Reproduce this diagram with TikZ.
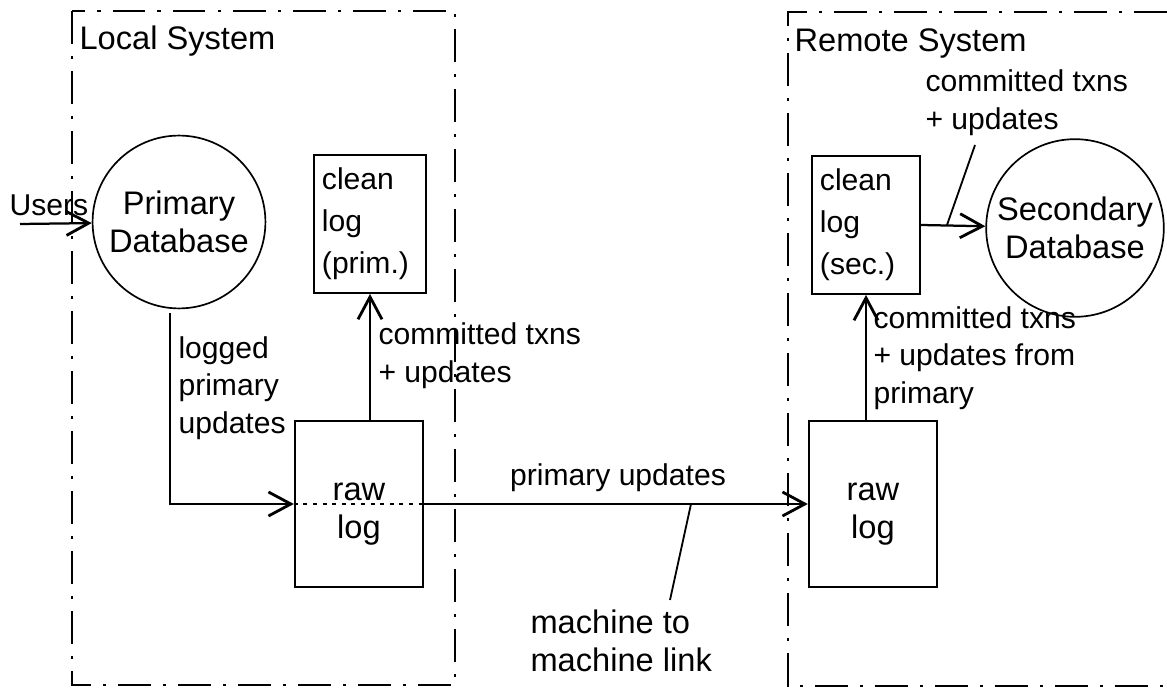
\documentclass[tikz,border=0pt]{standalone}
\usepackage{fontspec}
\setmainfont{Liberation Sans}
\usetikzlibrary{arrows.meta}
\tikzset{
  txt/.style = {inner sep=0pt, font=\fontsize{10.7}{13.4}\selectfont},
  bigtxt/.style = {inner sep=0pt, font=\fontsize{11.6}{13.5}\selectfont},
  lbl/.style = {txt, align=left, anchor=west},
  dbase/.style = {bigtxt, circle, draw=black, line width=0.6pt,
    align=center, minimum size=2.16cm},% database
  logbox/.style = {txt, rectangle, draw=black, line width=0.8pt},
  rawbox/.style = {logbox, minimum width=1.6cm, minimum height=2.07cm,
    label={[bigtxt, align=center, yshift=-0.13cm]center:{raw\\log}}},% raw log
  cleanbox/.style = {logbox, align=left, inner xsep=0.1cm, text width=1.2cm,
    minimum height=1.72cm, font=\fontsize{10.7}{14.9}\selectfont},% clean log
  sysbound/.style = {line width=0.75pt,
    dash pattern=on 0.41cm off 0.15cm on 0.04cm off 0.15cm},
  flow/.style = {->, line width=0.8pt},
  pointer/.style = {line width=0.65pt}
}

\begin{document}
\begin{tikzpicture}[x=0.0125cm, y=-0.0125cm,
    >={Straight Barb[length=2.8mm,width=3mm,line width=1pt]}]
  \useasboundingbox (0,0) rectangle (1167,688);
  % system boundaries
  \draw [sysbound] (72,11) rectangle (455,685);
  \draw [sysbound] (1167,12) -- (788,12) -- (788,686) -- (1167,686);
  \node [bigtxt, anchor=west] (locsys) at (79,41) {Local System};
  \node [bigtxt, anchor=west] (remsys) at (794,44) {Remote System};

  % local system
  \node [dbase] (primdb) at (179,222) {Primary\\Database};
  \node [txt] (users) at (49,205) {Users};
  \coordinate (usrsrc) at (20,224);
  \node [cleanbox] (cleanprim) at (370,224) {clean\\log\\(prim.)};
  \node [rawbox] (rawprim) at (359,504) {};
  \coordinate (logtop) at (170,313);

  \draw [flow] (usrsrc) -- (primdb);
  \draw [flow] (logtop) |- (rawprim.west);
  \draw [line width=0.75pt, dash pattern=on 0.05cm off 0.07cm]
    (rawprim.west) -- (rawprim.east);
  \draw [flow] (cleanprim.south |- rawprim.north) -- (cleanprim.south);
  \node [lbl] (logged) at (178,388) {logged\\primary\\updates};
  \node [lbl] (commprim) at (378,356) {committed txns\\+ updates};

  % remote system
  \node [rawbox] (rawsec) at (873,504) {};
  \node [cleanbox, text width=1.15cm] (cleansec) at (866,225) {clean\\log\\(sec.)};
  \node [dbase, minimum size=2.22cm] (secdb) at (1075,228) {Secondary\\Database};

  \draw [flow] (cleansec.south |- rawsec.north) -- (cleansec.south);
  \draw [flow] (cleansec.east) -- (secdb);
  \node [lbl] (commsec) at (873,358) {committed txns\\+ updates from\\primary};
  \node [lbl] (commtop) at (925,103) {committed txns\\+ updates};
  \coordinate (cleanpt) at (947,225);
  \coordinate (cleanend) at (975,145);
  \draw [pointer] (cleanpt) -- (cleanend);

  % link between machines
  \draw [flow] (rawprim.east) -- (rawsec.west);
  \node [txt] (primupd) at (618,478) {primary updates};
  \node [bigtxt, align=left, anchor=west] (machlink) at (530,641) {machine to\\machine link};
  \coordinate (linkpt) at (691,504);
  \coordinate (linkend) at (670,600);
  \draw [pointer] (linkpt) -- (linkend);
\end{tikzpicture}
\end{document}
